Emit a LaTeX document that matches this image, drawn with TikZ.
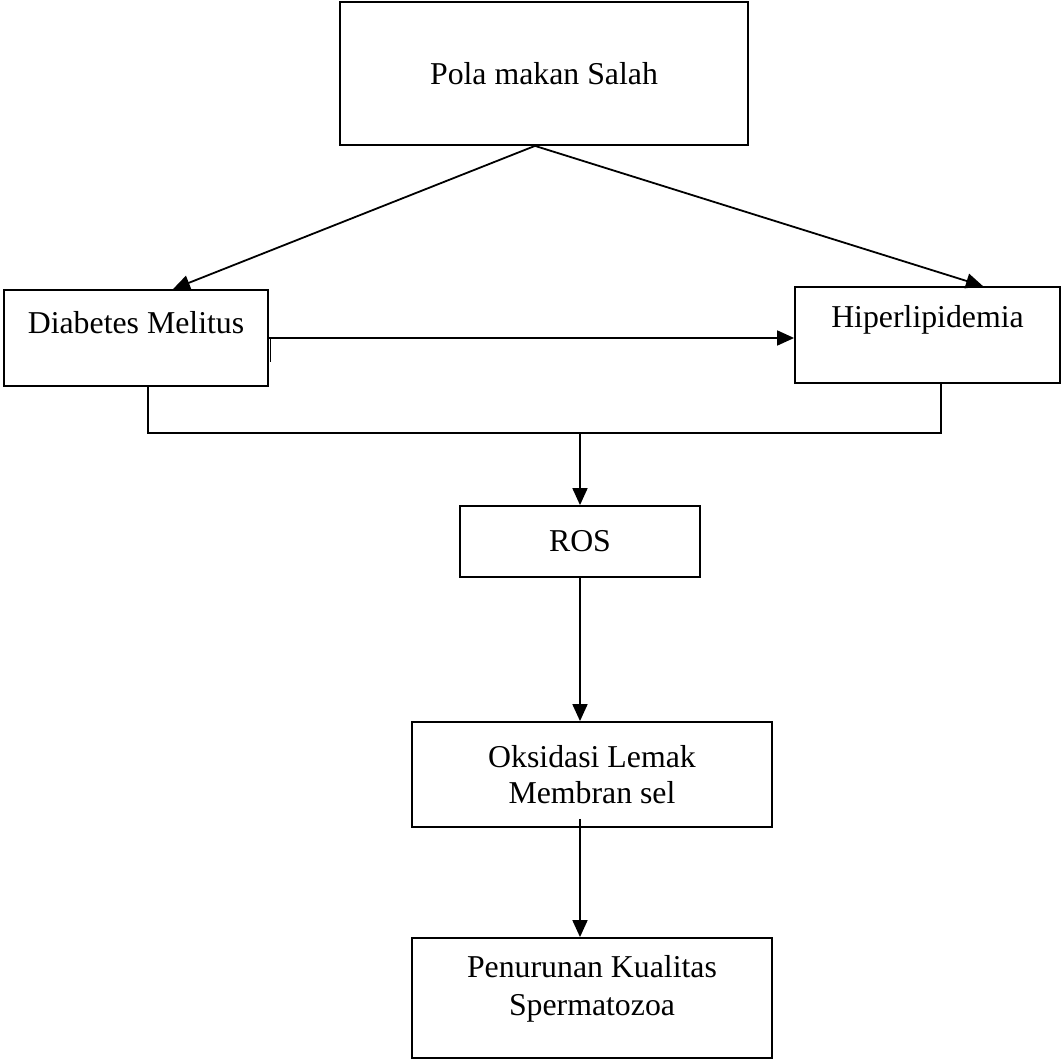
\documentclass[tikz,border=0pt]{standalone}
\usepackage{fontspec}
\setmainfont{Liberation Serif}
\usetikzlibrary{arrows.meta}
\begin{document}
\begin{tikzpicture}[x=0.5pt,y=-0.5pt,
 box/.style={draw,line width=0.9pt,inner sep=0pt},
 txt/.style={align=center,font=\fontsize{15.9}{18}\selectfont},
 arr/.style={line width=0.9pt,-{Triangle[length=8.5pt,width=7.5pt]}},
 conn/.style={line width=0.9pt}]
 \useasboundingbox (0,0) rectangle (1062,1059);
 % boxes
 \node[box,minimum width=204pt,minimum height=71.5pt] (pola) at (544,73.5) {};
 \node[txt] (polalbl) at (pola.center) {Pola makan Salah};
 \node[box,minimum width=132pt,minimum height=48pt] (diab) at (136,338) {};
 \node[txt] (diablbl) at ([yshift=7.5pt]diab.center) {Diabetes Melitus};
 \node[box,minimum width=132.5pt,minimum height=48pt] (hiper) at (927.5,335) {};
 \node[txt] (hiperlbl) at ([yshift=7.5pt]hiper.center) {Hiperlipidemia};
 \node[box,minimum width=120pt,minimum height=35.5pt] (ros) at (580,541.5) {};
 \node[txt] (roslbl) at (ros.center) {ROS};
 \node[box,minimum width=180pt,minimum height=52.5pt] (oks) at (592,774.5) {};
 \node[txt] (okslbl) at (oks.center) {Oksidasi Lemak\\Membran sel};
 \node[box,minimum width=180pt,minimum height=60pt] (pen) at (592,998) {};
 \node[txt,font=\fontsize{15.9}{19}\selectfont] (penlbl) at ([yshift=4.5pt]pen.center) {Penurunan Kualitas\\Spermatozoa};
 \coordinate (join) at (580,433);
 % connectors
 \draw[arr] ([xshift=-4.5pt]pola.south) -- ([xshift=18.5pt]diab.north);
 \draw[arr] ([xshift=-4.5pt]pola.south) -- ([xshift=27.75pt]hiper.north);
 \draw[arr] (diab.east) -- (diab.east -| hiper.west);
 \draw[conn] ([xshift=0.8pt]diab.east) -- ++(0,24);
 \draw[conn] ([xshift=6pt]diab.south) |- (join) -| ([xshift=6.75pt]hiper.south);
 \draw[arr] (join) -- (ros.north);
 \draw[arr] (ros.south) -- (ros.south |- oks.north);
 \draw[arr] ([yshift=4.5pt]oks.south -| ros.south) -- (ros.south |- pen.north);
\end{tikzpicture}
\end{document}
